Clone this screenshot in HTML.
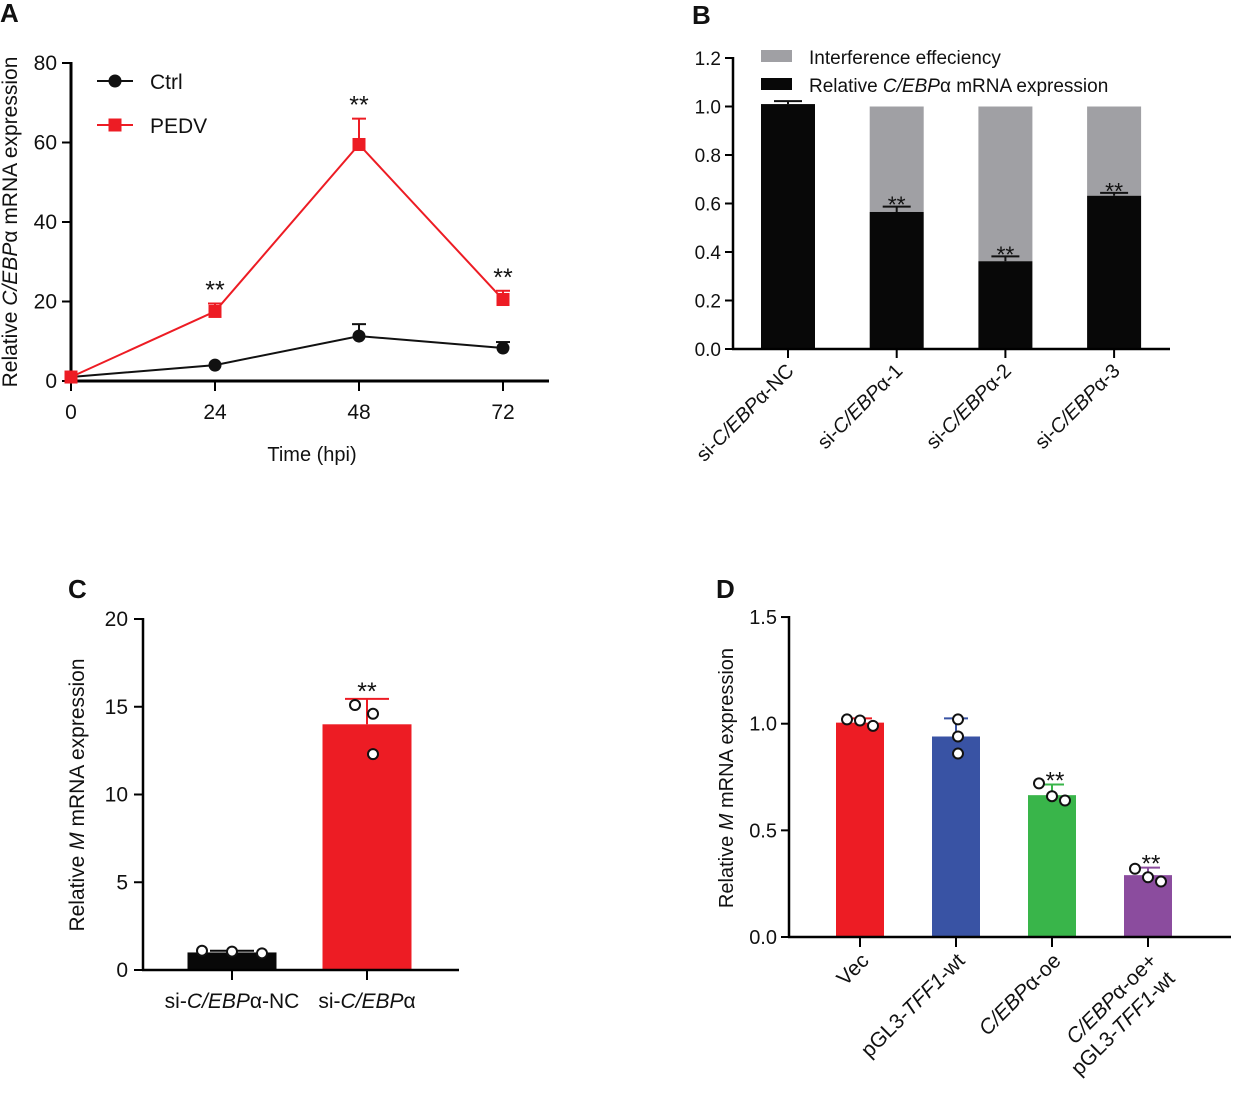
<!DOCTYPE html>
<html><head><meta charset="utf-8"><style>
html,body{margin:0;padding:0;background:#fff}
svg{display:block;font-family:"Liberation Sans",Arial,sans-serif}
</style></head><body>
<svg id="fig" width="1233" height="1094" viewBox="0 0 1233 1094" xmlns="http://www.w3.org/2000/svg">
<g id="pa"></g>
<g id="pb"></g>
<g id="pc"></g>
<g id="pd"></g>
</svg>
<script>
// Panel A data
const aTimes = [0, 24, 48, 72];
const aCtrl = [1, 4, 11.3, 8.3];
const aCtrlErr = [0, 0, 3, 1.5];
const aPedv = [1, 17.5, 59.5, 20.5];
const aPedvErr = [0, 2, 6.5, 2.2];
const aYTicks = [0, 20, 40, 60, 80];
const aStars = [false, true, true, true];
// Panel B data
const bCats = ["si-C/EBPα-NC", "si-C/EBPα-1", "si-C/EBPα-2", "si-C/EBPα-3"];
const bRel = [1.01, 0.565, 0.362, 0.632];
const bRelErr = [0.012, 0.022, 0.02, 0.012];
const bTotal = [1.01, 1.0, 1.0, 1.0];
const bStars = [false, true, true, true];
const bYTicks = [0, 0.2, 0.4, 0.6, 0.8, 1.0, 1.2];
// Panel C data
const cCats = ["NC", "si"];
const cVals = [1.0, 14.0];
const cErr = [0.1, 1.45];
const cPts = [[1.1, 1.05, 0.95], [15.1, 14.6, 12.3]];
const cYTicks = [0, 5, 10, 15, 20];
// Panel D data
const dCats = ["Vec", "pGL3-TFF1-wt", "C/EBPα-oe", "C/EBPα-oe+pGL3-TFF1-wt"];
const dVals = [1.005, 0.94, 0.665, 0.29];
const dErr = [0.02, 0.085, 0.05, 0.035];
const dPts = [[1.02, 1.015, 0.99], [1.02, 0.94, 0.86], [0.72, 0.66, 0.64], [0.32, 0.28, 0.26]];
const dStars = [false, false, true, true];
const dYTicks = [0, 0.5, 1.0, 1.5];

const NS = "http://www.w3.org/2000/svg";
function mk(parent, tag, attrs, text) {
  const e = document.createElementNS(NS, tag);
  for (const k in attrs) e.setAttribute(k, attrs[k]);
  if (text !== undefined) e.textContent = text;
  parent.appendChild(e);
  return e;
}
function label(g, x, y, t, size, anchor, extra) {
  const a = Object.assign({x: x, y: y, 'font-size': size, 'text-anchor': anchor || 'middle', fill: '#111'}, extra || {});
  return mk(g, 'text', a, t);
}
function italicAlpha(g, x, y, pre, ital, post, size, anchor, rot, name) {
  const t = mk(g, 'text', {x: x, y: y, 'font-size': size, 'text-anchor': anchor, fill: '#111', transform: rot || ''});
  
  
  mk(t, 'tspan', {}, pre);
  mk(t, 'tspan', {'font-style': 'italic'}, ital);
  mk(t, 'tspan', {}, post);
  return t;
}

// ---------- Panel A ----------
(function () {
  const g = document.getElementById('pa');
  const X = t => 71 + t * 6;
  const Y = v => 381 - v * 3.975;
  let e = label(g, 0, 22, 'A', 26, 'start', {'font-weight': 'bold'});
  
  
  e = mk(g, 'line', {x1: 71, y1: 62, x2: 71, y2: 382, stroke: '#000', 'stroke-width': 3});
  
  
  e = mk(g, 'line', {x1: 69, y1: 381, x2: 549, y2: 381, stroke: '#000', 'stroke-width': 3});
  
  
  aYTicks.forEach(v => {
    mk(g, 'line', {x1: 62, y1: Y(v), x2: 71, y2: Y(v), stroke: '#000', 'stroke-width': 2});
    const t = label(g, 57, Y(v) + 7, String(v), 21, 'end');
    
    
  });
  aTimes.forEach(tm => {
    mk(g, 'line', {x1: X(tm), y1: 381, x2: X(tm), y2: 391, stroke: '#000', 'stroke-width': 2});
    const t = label(g, X(tm), 419, String(tm), 21);
    
    
  });
  e = label(g, 312, 461, 'Time (hpi)', 20);
  
  
  italicAlpha(g, 17, 222, 'Relative ', 'C/EBP', 'α mRNA expression', 21, 'middle', 'rotate(-90 17 222)', 'y-axis-title');
  const cp = aTimes.map((t, i) => X(t) + ',' + Y(aCtrl[i])).join(' ');
  e = mk(g, 'polyline', {points: cp, fill: 'none', stroke: '#111', 'stroke-width': 2});
  
  
  const pp = aTimes.map((t, i) => X(t) + ',' + Y(aPedv[i])).join(' ');
  e = mk(g, 'polyline', {points: pp, fill: 'none', stroke: '#ed1c24', 'stroke-width': 2});
  
  
  aTimes.forEach((t, i) => {
    if (aCtrlErr[i] > 0) {
      mk(g, 'line', {x1: X(t), y1: Y(aCtrl[i]), x2: X(t), y2: Y(aCtrl[i] + aCtrlErr[i]), stroke: '#111', 'stroke-width': 2});
      mk(g, 'line', {x1: X(t) - 7, y1: Y(aCtrl[i] + aCtrlErr[i]), x2: X(t) + 7, y2: Y(aCtrl[i] + aCtrlErr[i]), stroke: '#111', 'stroke-width': 2});
    }
    const c = mk(g, 'circle', {cx: X(t), cy: Y(aCtrl[i]), r: 6.5, fill: '#111'});
    
    
    if (aPedvErr[i] > 0) {
      mk(g, 'line', {x1: X(t), y1: Y(aPedv[i]), x2: X(t), y2: Y(aPedv[i] + aPedvErr[i]), stroke: '#ed1c24', 'stroke-width': 2});
      mk(g, 'line', {x1: X(t) - 7, y1: Y(aPedv[i] + aPedvErr[i]), x2: X(t) + 7, y2: Y(aPedv[i] + aPedvErr[i]), stroke: '#ed1c24', 'stroke-width': 2});
    }
    const s = mk(g, 'rect', {x: X(t) - 6.5, y: Y(aPedv[i]) - 6.5, width: 13, height: 13, fill: '#ed1c24'});
    
    
    if (aStars[i]) {
      const st = label(g, X(t), Y(aPedv[i] + aPedvErr[i]) - 5, '**', 25);
      
      
    }
  });
  const lg = mk(g, 'g', {});
  
  
  mk(lg, 'line', {x1: 97, y1: 81, x2: 133, y2: 81, stroke: '#111', 'stroke-width': 2});
  mk(lg, 'circle', {cx: 115, cy: 81, r: 6.5, fill: '#111'});
  label(lg, 150, 89, 'Ctrl', 21, 'start');
  mk(lg, 'line', {x1: 97, y1: 125, x2: 133, y2: 125, stroke: '#ed1c24', 'stroke-width': 2});
  mk(lg, 'rect', {x: 108.5, y: 118.5, width: 13, height: 13, fill: '#ed1c24'});
  label(lg, 150, 133, 'PEDV', 21, 'start');
})();

// ---------- Panel B ----------
(function () {
  const g = document.getElementById('pb');
  const Y = v => 349 - v * 242.5;
  const XC = i => 788 + i * 108.7;
  const bw = 54;
  let e = label(g, 692, 24, 'B', 26, 'start', {'font-weight': 'bold'});
  
  
  bCats.forEach((c, i) => {
    if (bTotal[i] > bRel[i]) {
      const r = mk(g, 'rect', {x: XC(i) - bw / 2, y: Y(bTotal[i]), width: bw, height: Y(bRel[i]) - Y(bTotal[i]), fill: '#a0a0a4'});
      
      
    }
    const r2 = mk(g, 'rect', {x: XC(i) - bw / 2, y: Y(bRel[i]), width: bw, height: Y(0) - Y(bRel[i]), fill: '#080808'});
    
    
    const top = Y(bRel[i] + bRelErr[i]);
    mk(g, 'line', {x1: XC(i), y1: Y(bRel[i]), x2: XC(i), y2: top, stroke: '#111', 'stroke-width': 2});
    mk(g, 'line', {x1: XC(i) - 14, y1: top, x2: XC(i) + 14, y2: top, stroke: '#111', 'stroke-width': 2});
    if (bStars[i]) {
      const st = label(g, XC(i), top + 6, '**', 23);
      
      
    }
    mk(g, 'line', {x1: XC(i), y1: 349, x2: XC(i), y2: 358, stroke: '#000', 'stroke-width': 2});
    const m = c.match(/^si-(C\/EBP)(.*)$/);
    const tx = XC(i) + 7, ty = 372;
    italicAlpha(g, tx, ty, 'si-', m[1], m[2], 20, 'end', 'rotate(-45 ' + tx + ' ' + ty + ')', 'x-tick-label');
  });
  e = mk(g, 'line', {x1: 733, y1: 57, x2: 733, y2: 350, stroke: '#000', 'stroke-width': 2.5});
  
  
  e = mk(g, 'line', {x1: 732, y1: 349, x2: 1170, y2: 349, stroke: '#000', 'stroke-width': 2.5});
  
  
  bYTicks.forEach(v => {
    mk(g, 'line', {x1: 725, y1: Y(v), x2: 733, y2: Y(v), stroke: '#000', 'stroke-width': 2});
    const t = label(g, 721, Y(v) + 7, v.toFixed(1), 19, 'end');
    
    
  });
  const lg = mk(g, 'g', {});
  
  
  mk(lg, 'rect', {x: 761, y: 50, width: 31, height: 12, fill: '#a0a0a4'});
  label(lg, 809, 64, 'Interference effeciency', 19, 'start');
  mk(lg, 'rect', {x: 761, y: 78, width: 31, height: 12, fill: '#080808'});
  const t = mk(lg, 'text', {x: 809, y: 92, 'font-size': 19, fill: '#111'});
  mk(t, 'tspan', {}, 'Relative ');
  mk(t, 'tspan', {'font-style': 'italic'}, 'C/EBP');
  mk(t, 'tspan', {}, 'α mRNA expression');
})();

// ---------- Panel C ----------
(function () {
  const g = document.getElementById('pc');
  const Y = v => 970 - v * 17.55;
  const XC = i => 232 + i * 135;
  const bw = 89;
  const cols = ['#080808', '#ed1c24'];
  let e = label(g, 68, 598, 'C', 26, 'start', {'font-weight': 'bold'});
  
  
  cCats.forEach((c, i) => {
    const r = mk(g, 'rect', {x: XC(i) - bw / 2, y: Y(cVals[i]), width: bw, height: Y(0) - Y(cVals[i]), fill: cols[i]});
    
    
    const top = Y(cVals[i] + cErr[i]);
    mk(g, 'line', {x1: XC(i), y1: Y(cVals[i]), x2: XC(i), y2: top, stroke: cols[i], 'stroke-width': 2});
    mk(g, 'line', {x1: XC(i) - 22, y1: top, x2: XC(i) + 22, y2: top, stroke: cols[i], 'stroke-width': 2});
    cPts[i].forEach((p, j) => {
      const cc = mk(g, 'circle', {cx: XC(i) + (j - 1) * 30 * (i ? 0.2 : 1) + (i ? (j === 0 ? -6 : j === 1 ? 6 : 0) : 0), cy: Y(p), r: 5, fill: '#fff', stroke: '#111', 'stroke-width': 2});
      
      
    });
    mk(g, 'line', {x1: XC(i), y1: 970, x2: XC(i), y2: 980, stroke: '#000', 'stroke-width': 2});
  });
  const st = label(g, XC(1), Y(cVals[1] + cErr[1]) + 1, '**', 25);
  
  
  e = mk(g, 'line', {x1: 143, y1: 618, x2: 143, y2: 971, stroke: '#000', 'stroke-width': 2.5});
  
  
  e = mk(g, 'line', {x1: 142, y1: 970, x2: 459, y2: 970, stroke: '#000', 'stroke-width': 2.5});
  
  
  cYTicks.forEach(v => {
    mk(g, 'line', {x1: 134, y1: Y(v), x2: 143, y2: Y(v), stroke: '#000', 'stroke-width': 2});
    const t = label(g, 128, Y(v) + 7, String(v), 21, 'end');
    
    
  });
  italicAlpha(g, 232, 1008, 'si-', 'C/EBP', 'α-NC', 21, 'middle', '', 'x-tick-label');
  italicAlpha(g, 367, 1008, 'si-', 'C/EBP', 'α', 21, 'middle', '', 'x-tick-label');
  italicAlpha(g, 84, 795, 'Relative ', 'M', ' mRNA expression', 21, 'middle', 'rotate(-90 84 795)', 'y-axis-title');
})();

// ---------- Panel D ----------
(function () {
  const g = document.getElementById('pd');
  const Y = v => 937 - v * 213.3;
  const XC = i => 860 + i * 96;
  const bw = 48;
  const cols = ['#ed1c24', '#3953a4', '#39b54a', '#8b4c9e'];
  let e = label(g, 716, 598, 'D', 26, 'start', {'font-weight': 'bold'});
  
  
  dCats.forEach((c, i) => {
    const r = mk(g, 'rect', {x: XC(i) - bw / 2, y: Y(dVals[i]), width: bw, height: Y(0) - Y(dVals[i]), fill: cols[i]});
    
    
    const top = Y(dVals[i] + dErr[i]);
    mk(g, 'line', {x1: XC(i), y1: Y(dVals[i]), x2: XC(i), y2: top, stroke: cols[i], 'stroke-width': 2});
    mk(g, 'line', {x1: XC(i) - 12, y1: top, x2: XC(i) + 12, y2: top, stroke: cols[i], 'stroke-width': 2});
    const offs = i === 1 ? [0, 0, 0] : [-13, 0, 13];
    dPts[i].forEach((p, j) => {
      const cc = mk(g, 'circle', {cx: XC(i) + offs[j] + (i === 1 ? 2 : 0), cy: Y(p), r: 5, fill: '#fff', stroke: '#111', 'stroke-width': 2});
      
      
    });
    if (dStars[i]) {
      const st = label(g, XC(i) + 3, top + 4, '**', 24);
      
      
    }
    mk(g, 'line', {x1: XC(i), y1: 937, x2: XC(i), y2: 947, stroke: '#000', 'stroke-width': 2});
  });
  e = mk(g, 'line', {x1: 789, y1: 616, x2: 789, y2: 938, stroke: '#000', 'stroke-width': 2.5});
  
  
  e = mk(g, 'line', {x1: 788, y1: 937, x2: 1231, y2: 937, stroke: '#000', 'stroke-width': 2.5});
  
  
  dYTicks.forEach(v => {
    mk(g, 'line', {x1: 781, y1: Y(v), x2: 789, y2: Y(v), stroke: '#000', 'stroke-width': 2});
    const t = label(g, 777, Y(v) + 7, v.toFixed(1), 20, 'end');
    
    
  });
  italicAlpha(g, 733, 778, 'Relative ', 'M', ' mRNA expression', 20, 'middle', 'rotate(-90 733 778)', 'y-axis-title');
  let tx = XC(0) + 10, ty = 962;
  e = label(g, tx, ty, 'Vec', 21, 'end', {transform: 'rotate(-45 ' + tx + ' ' + ty + ')'});
  
  
  tx = XC(1) + 10;
  italicAlpha(g, tx, ty, 'pGL3-', 'TFF1', '-wt', 21, 'end', 'rotate(-45 ' + tx + ' ' + ty + ')', 'x-tick-label');
  tx = XC(2) + 10;
  italicAlpha(g, tx, ty, '', 'C/EBP', 'α-oe', 21, 'end', 'rotate(-45 ' + tx + ' ' + ty + ')', 'x-tick-label');
  tx = XC(3) + 10;
  italicAlpha(g, tx, ty, '', 'C/EBP', 'α-oe+', 21, 'end', 'rotate(-45 ' + tx + ' ' + ty + ')', 'x-tick-label');
  tx = XC(3) + 28; ty = 980;
  italicAlpha(g, tx, ty, 'pGL3-', 'TFF1', '-wt', 21, 'end', 'rotate(-45 ' + tx + ' ' + ty + ')', 'x-tick-label');
})();
</script>
</body></html>
